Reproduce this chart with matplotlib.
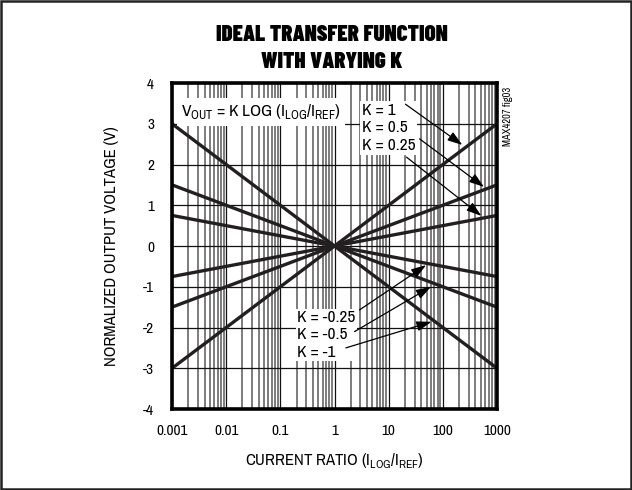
import matplotlib.pyplot as plt
from matplotlib.patches import Rectangle

plt.rcParams['font.family'] = ['Archivo Narrow', 'DejaVu Sans']
plt.rcParams['axes.unicode_minus'] = False

# data: endpoints of each ideal line at x = 0.001 and x = 1000
x_ends = [0.001, 1000]
k_values = [1, 0.5, 0.25, -0.25, -0.5, -1]
y_ends = [[-3, 3], [-1.5, 1.5], [-0.75, 0.75], [0.75, -0.75], [1.5, -1.5], [3, -3]]

x_ticks = [0.001, 0.01, 0.1, 1, 10, 100, 1000]
x_ticklabels = ['0.001', '0.01', '0.1', '1', '10', '100', '1000']
y_ticks = [-4, -3, -2, -1, 0, 1, 2, 3, 4]

pos_labels = ['K = 1', 'K = 0.5', 'K = 0.25']
neg_labels = ['K = -0.25', 'K = -0.5', 'K = -1']

fig = plt.figure(figsize=(6.32, 4.90), dpi=100)
fig.patches.append(Rectangle((0.002, 0.002), 0.996, 0.996, transform=fig.transFigure,
                             fill=False, edgecolor='#222222', linewidth=1.8))
ax = fig.add_axes([0.2722, 0.1653, 0.5142, 0.6653])

for ys in y_ends:
    ax.plot(x_ends, ys, color='#231f20', linewidth=2.4, solid_capstyle='butt', zorder=3)

ax.set_xscale('log')
ax.set_xlim(0.001, 1000)
ax.set_ylim(-4, 4)
ax.set_xticks(x_ticks)
ax.set_xticklabels(x_ticklabels)
ax.set_yticks(y_ticks)
ax.grid(True, which='major', color='#111111', linewidth=0.9)
ax.grid(True, which='minor', axis='x', color='#666666', linewidth=1.2)
ax.tick_params(which='both', length=0, labelsize=11)
ax.tick_params(axis='y', pad=13)
ax.tick_params(axis='x', pad=11)
for s in ax.spines.values():
    s.set_linewidth(2.6)
    s.set_zorder(5)

ax.set_xlabel(r'CURRENT RATIO (I$_{\mathregular{LOG}}$/I$_{\mathregular{REF}}$)', fontsize=12, labelpad=9)
ax.set_ylabel('NORMALIZED OUTPUT VOLTAGE (V)', fontsize=12, labelpad=17)

fig.text(0.525, 0.901, 'IDEAL TRANSFER FUNCTION\nWITH VARYING K', ha='center', va='center',
         fontsize=16.5, fontweight=900, family='Barlow Condensed', linespacing=1.4)

ax.text(10 ** -2.83, 3.29, r'V$_{\mathregular{OUT}}$ = K LOG (I$_{\mathregular{LOG}}$/I$_{\mathregular{REF}}$)',
        fontsize=12.5, ha='left', va='center', zorder=4,
        bbox=dict(facecolor='white', edgecolor='none', pad=3))

# positive K labels and arrows
pos_start = [(10 ** 1.31, 3.48), (10 ** 1.57, 2.63), (10 ** 1.33, 2.18)]
pos_tip = [(10 ** 2.36, 2.48), (10 ** 2.76, 1.45), (10 ** 2.71, 0.74)]
ax.text(10 ** 0.5, 2.9, '\n'.join(pos_labels), fontsize=12.5, ha='left', va='center',
        linespacing=1.2, zorder=4, bbox=dict(facecolor='white', edgecolor='none', pad=1.5))
for st, tp in zip(pos_start, pos_tip):
    ax.annotate('', xy=tp, xytext=st, zorder=4,
                arrowprops=dict(arrowstyle='-|>,head_length=0.9,head_width=0.3', color='black',
                                linewidth=0.9, shrinkA=0, shrinkB=0))

# negative K labels and arrows
neg_start = [(10 ** 0.46, -1.57), (10 ** 0.37, -2.1), (10 ** 0.21, -2.5)]
neg_tip = [(10 ** 1.69, -0.47), (10 ** 1.78, -1.0), (10 ** 1.79, -1.86)]
ax.text(10 ** -0.69, -2.18, '\n'.join(neg_labels), fontsize=12.5, ha='left', va='center',
        linespacing=1.2, zorder=4, bbox=dict(facecolor='white', edgecolor='none', pad=1))
for st, tp in zip(neg_start, neg_tip):
    ax.annotate('', xy=tp, xytext=st, zorder=4,
                arrowprops=dict(arrowstyle='-|>,head_length=0.9,head_width=0.3', color='black',
                                linewidth=0.9, shrinkA=0, shrinkB=0))

fig.text(0.804, 0.822, 'MAX4207 fig03', rotation=90, ha='center', va='top', fontsize=7.5)

fig.savefig('out.png', dpi=100)
